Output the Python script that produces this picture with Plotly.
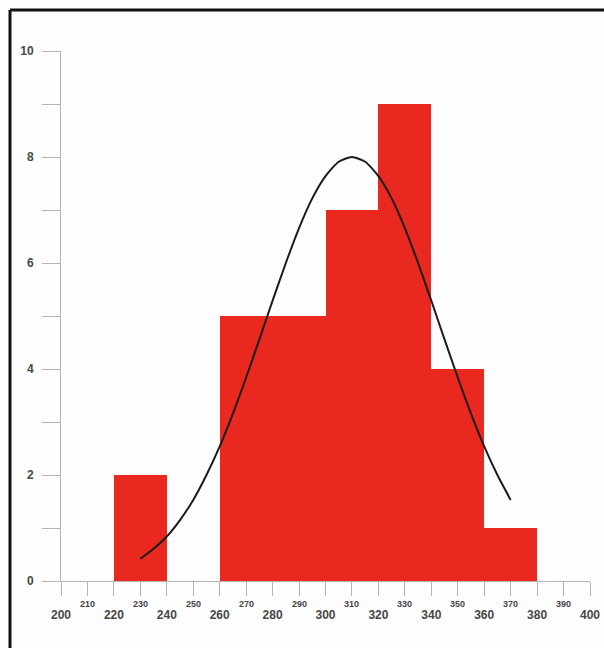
import plotly.graph_objects as go

# Histogram data
bin_left = [220, 240, 260, 280, 300, 320, 340, 360]
bin_width = 20
counts = [2, 0, 5, 5, 7, 9, 4, 1]

# Fitted curve
curve_x = [230, 235, 240, 245, 250, 255, 260, 265, 270, 275, 280, 285, 290, 295, 300,
           305, 310, 315, 320, 325, 330, 335, 340, 345, 350, 355, 360, 365, 370]
curve_y = [0.42, 0.61, 0.84, 1.15, 1.53, 2.0, 2.54, 3.16, 3.84, 4.56, 5.29, 6.0, 6.66, 7.22, 7.64,
           7.91, 8.0, 7.91, 7.64, 7.22, 6.66, 6.0, 5.29, 4.56, 3.84, 3.16, 2.54, 2.0, 1.53]

# Axis ticks
x_ticks = list(range(200, 401, 10))
x_major_labels = [str(v) if v % 20 == 0 else "" for v in x_ticks]
x_minor_vals = [v for v in x_ticks if v % 20 != 0]
y_ticks = list(range(0, 11))
y_labels = [str(v) if v % 2 == 0 else "" for v in y_ticks]

W, H = 604, 648
ML, MR, MT, MB = 61, 14, 51, 67
PW, PH = W - ML - MR, H - MT - MB

centers = [b + bin_width / 2 for b in bin_left]

fig = go.Figure()
fig.add_trace(go.Bar(
    x=centers, y=counts, width=[bin_width] * len(counts),
    marker=dict(color="#e9281f", line=dict(width=0)),
    showlegend=False,
))
fig.add_trace(go.Scatter(
    x=curve_x, y=curve_y, mode="lines",
    line=dict(color="#1c1c1c", width=2, shape="spline", smoothing=0.6),
    showlegend=False,
))

axis_gray = "#b5b5b5"
label_color = "#474747"

fig.update_xaxes(
    range=[200, 400], tickmode="array", tickvals=x_ticks, ticktext=x_major_labels,
    ticks="outside", ticklen=14, tickcolor=axis_gray, tickwidth=1,
    showline=True, linecolor=axis_gray, linewidth=1,
    showgrid=False, zeroline=False, automargin=False,
    tickfont=dict(family="Liberation Sans", size=12, color=label_color, weight="bold"),
    ticklabelstandoff=9,
)
fig.update_yaxes(
    range=[0, 10], tickmode="array", tickvals=y_ticks, ticktext=y_labels,
    ticks="outside", ticklen=18, tickcolor=axis_gray, tickwidth=1,
    showline=True, linecolor=axis_gray, linewidth=1,
    showgrid=False, zeroline=False, automargin=False,
    tickfont=dict(family="Liberation Sans", size=12, color=label_color, weight="bold"),
    ticklabelstandoff=6,
)

annotations = []
for v in x_minor_vals:
    annotations.append(dict(
        x=v, xref="x", y=(581.5 - 604) / PH, yref="paper",
        text=str(v), showarrow=False, xanchor="center", yanchor="middle",
        font=dict(family="Liberation Sans", size=9, color=label_color, weight="bold"),
    ))

# frame lines (top and left)
fx = (10 - ML) / PW
fy = (H - MB - 10) / PH
shapes = [
    dict(type="line", xref="paper", yref="paper", x0=fx, x1=(W - ML) / PW + 0.01, y0=fy, y1=fy,
         line=dict(color="#111111", width=3)),
    dict(type="line", xref="paper", yref="paper", x0=fx, x1=fx, y0=fy, y1=-MB / PH - 0.01,
         line=dict(color="#111111", width=3)),
]

fig.update_layout(
    width=W, height=H, autosize=False, showlegend=False,
    margin=dict(l=ML, r=MR, t=MT, b=MB, pad=0, autoexpand=False),
    paper_bgcolor="#fdfdfd", plot_bgcolor="#fdfdfd",
    bargap=0, annotations=annotations, shapes=shapes,
)

fig.write_html("out.html", config={"displayModeBar": False},
               post_script="document.body.style.margin='0';document.body.style.overflow='hidden';")
